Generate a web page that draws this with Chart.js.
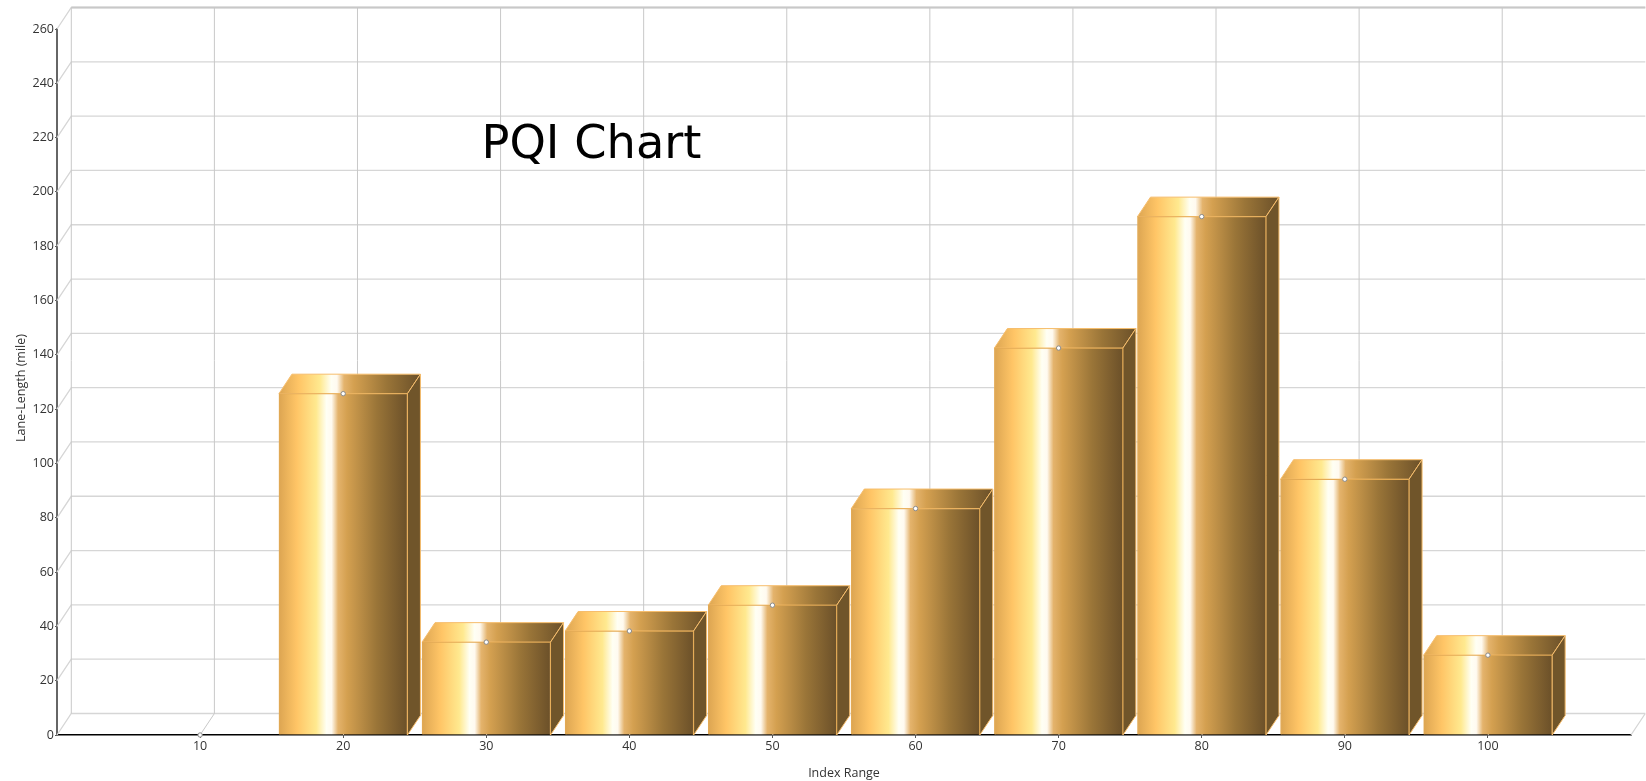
<!DOCTYPE html>
<html>
<head>
<meta charset="utf-8">
<title>PQI Chart</title>
<script src="https://cdn.jsdelivr.net/npm/chart.js@4/dist/chart.umd.min.js"></script>
<style>
  html, body { margin: 0; padding: 0; background: #fff; }
  canvas { display: block; }
</style>
</head>
<body>
<canvas id="pqiChart" width="1646" height="781"></canvas>
<script>
// values
const categories = [10, 20, 30, 40, 50, 60, 70, 80, 90, 100];
const laneLength = [0, 125.7, 34.2, 38.3, 47.8, 83.4, 142.5, 190.9, 94.2, 29.4];
const yTicks = [0, 20, 40, 60, 80, 100, 120, 140, 160, 180, 200, 220, 240, 260];

const chartTitle = 'PQI Chart';
const xTitle = 'Index Range';
const yTitle = 'Lane-Length (mile)';

const TITLE_FONT = '"DejaVu Sans", sans-serif';
const FONT = '"Open Sans", sans-serif';
const WALL_X = 14.3;
const WALL_Y = 21.5;
const BAR_DEPTH_X = 13;
const BAR_DEPTH_Y = 19.5;
const BAR_WIDTH = 128.5;

const goldStops = [
  [0, '#dca552'],
  [0.14, '#ffc566'],
  [0.29, '#ffe98f'],
  [0.37, '#fffff4'],
  [0.41, '#fffaf0'],
  [0.46, '#e4b36c'],
  [0.53, '#d4a050'],
  [0.76, '#9a7538'],
  [1, '#6b5029']
];

function goldGradient(ctx, left, right) {
  const g = ctx.createLinearGradient(left, 0, right, 0);
  goldStops.forEach(s => g.addColorStop(s[0], s[1]));
  return g;
}

// back wall, side wall and floor of the 3d box
const wallsPlugin = {
  id: 'walls',
  beforeDatasetsDraw(chart) {
    const {ctx, scales: {x, y}} = chart;
    const bottom = y.getPixelForValue(0);
    const top = y.getPixelForValue(260);
    const backLeft = x.left + WALL_X;
    const backRight = x.right + WALL_X;
    ctx.save();
    ctx.strokeStyle = '#d6d6d6';
    ctx.lineWidth = 1.3;
    ctx.beginPath();
    yTicks.forEach(v => {
      const py = y.getPixelForValue(v);
      ctx.moveTo(x.left, py);
      ctx.lineTo(backLeft, py - WALL_Y);
      ctx.lineTo(backRight, py - WALL_Y);
    });
    ctx.moveTo(x.right, bottom);
    ctx.lineTo(backRight, bottom - WALL_Y);
    ctx.stroke();

    ctx.strokeStyle = '#c8c8c8';
    ctx.lineWidth = 1;
    ctx.beginPath();
    ctx.moveTo(backLeft, top - WALL_Y);
    ctx.lineTo(backLeft, bottom - WALL_Y);
    categories.forEach(v => {
      const px = x.getPixelForValue(v);
      ctx.moveTo(px, bottom);
      ctx.lineTo(px + WALL_X, bottom - WALL_Y);
      ctx.lineTo(px + WALL_X, top - WALL_Y);
    });
    ctx.stroke();

    ctx.beginPath();
    ctx.lineWidth = 2;
    ctx.moveTo(backLeft, top - WALL_Y);
    ctx.lineTo(backRight, top - WALL_Y);
    ctx.stroke();

    // top and side faces of each bar
    const bars = chart.getDatasetMeta(0).data;
    ctx.lineWidth = 1;
    bars.forEach((bar, i) => {
      if (!laneLength[i]) return;
      const left = bar.x - BAR_WIDTH / 2;
      const right = bar.x + BAR_WIDTH / 2;
      ctx.strokeStyle = '#f6bd6c';
      ctx.fillStyle = goldGradient(ctx, left, right + BAR_DEPTH_X);
      ctx.beginPath();
      ctx.moveTo(left, bar.y);
      ctx.lineTo(left + BAR_DEPTH_X, bar.y - BAR_DEPTH_Y);
      ctx.lineTo(right + BAR_DEPTH_X, bar.y - BAR_DEPTH_Y);
      ctx.lineTo(right, bar.y);
      ctx.closePath();
      ctx.fill();
      ctx.stroke();
      ctx.fillStyle = '#70552a';
      ctx.beginPath();
      ctx.moveTo(right, bar.y);
      ctx.lineTo(right + BAR_DEPTH_X, bar.y - BAR_DEPTH_Y);
      ctx.lineTo(right + BAR_DEPTH_X, bottom - BAR_DEPTH_Y);
      ctx.lineTo(right, bottom);
      ctx.closePath();
      ctx.fill();
      ctx.stroke();
    });
    ctx.restore();
  }
};

// the title sits inside the plot and the y title is off centre in the original
const floatingText = {
  id: 'floatingText',
  afterDraw(chart) {
    const {ctx} = chart;
    ctx.save();
    ctx.fillStyle = '#000';
    ctx.font = '46.3px ' + TITLE_FONT;
    ctx.textAlign = 'left';
    ctx.textBaseline = 'alphabetic';
    ctx.fillText(chartTitle, 481.5, 158);
    ctx.translate(21, 388);
    ctx.rotate(-Math.PI / 2);
    ctx.fillStyle = '#333';
    ctx.font = '12.5px ' + FONT;
    ctx.textAlign = 'center';
    ctx.textBaseline = 'middle';
    ctx.fillText(yTitle, 0, 0);
    ctx.restore();
  }
};

new Chart(document.getElementById('pqiChart'), {
  type: 'bar',
  data: {
    datasets: [
      {
        type: 'bar',
        data: categories.map((c, i) => ({x: c, y: laneLength[i]})),
        barThickness: BAR_WIDTH,
        order: 2,
        borderWidth: 1,
        borderColor: '#e3aa55',
        backgroundColor(c) {
          const px = c.chart.scales.x ? c.chart.scales.x.getPixelForValue(categories[c.dataIndex]) : NaN;
          if (!Number.isFinite(px)) return '#d4a050'; // scales not laid out yet
          return goldGradient(c.chart.ctx, px - BAR_WIDTH / 2, px + BAR_WIDTH / 2);
        }
      },
      {
        type: 'line',
        data: categories.map((c, i) => ({x: c, y: laneLength[i]})),
        showLine: false,
        order: 1,
        clip: false,
        pointRadius: 2.2,
        pointBorderWidth: 1,
        pointBorderColor: '#8a8a8a',
        pointBackgroundColor: '#ffffff'
      }
    ]
  },
  plugins: [wallsPlugin, floatingText],
  options: {
    responsive: false,
    animation: false,
    layout: {padding: {top: 29, right: 15, bottom: 0, left: 0}},
    plugins: {legend: {display: false}, tooltip: {enabled: false}},
    scales: {
      x: {
        type: 'linear',
        offset: false,
        min: 0,
        max: 110,
        afterBuildTicks(s) { s.ticks = categories.map(v => ({value: v})); },
        afterFit(s) { s.height = 46; },
        grid: {drawOnChartArea: false, offset: false, tickLength: 3, color: '#555'},
        border: {color: '#000', width: 1.5},
        ticks: {autoSkip: false, maxRotation: 0, color: '#333', padding: 1, font: {family: FONT, size: 12.5}},
        title: {display: true, text: xTitle, color: '#333', padding: {top: 6, bottom: 0}, font: {family: FONT, size: 12.5}}
      },
      y: {
        min: 0,
        max: 260,
        afterBuildTicks(s) { s.ticks = yTicks.map(v => ({value: v})); },
        afterFit(s) { s.width = 57; },
        grid: {drawOnChartArea: false, tickLength: 2, color: '#555'},
        border: {color: '#666', width: 2},
        ticks: {color: '#333', padding: 1, font: {family: FONT, size: 12.5}}
      }
    }
  }
});
</script>
</body>
</html>
